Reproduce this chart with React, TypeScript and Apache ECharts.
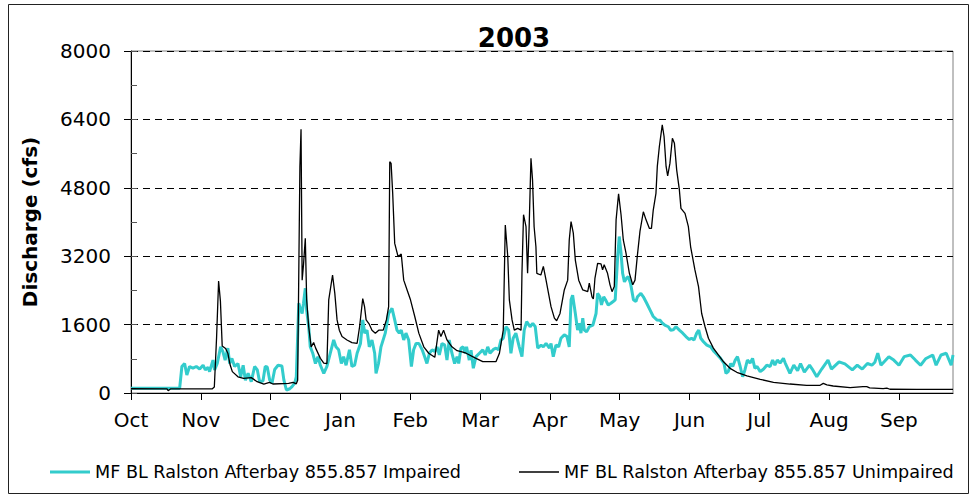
import React, { useEffect, useRef } from "react";
import * as echarts from "echarts";

const titleText = "2003";
const yAxisName = "Discharge (cfs)";
const monthLabels = ["Oct", "Nov", "Dec", "Jan", "Feb", "Mar", "Apr", "May", "Jun", "Jul", "Aug", "Sep"];
const monthTicks = [0, 31, 62, 93, 124, 155, 186, 217, 248, 279, 310, 341];
const seriesNames = ["MF BL Ralston Afterbay 855.857 Impaired", "MF BL Ralston Afterbay 855.857 Unimpaired"];
const seriesColors = ["#33CCCC", "#000000"];

// [day of water year, cfs]
const unimpaired: [number, number][] = [
  [0, 100], [16, 95], [16.5, 55], [17.5, 95], [36, 95], [37, 140], [38, 1300], [38.9, 2620], [39.7, 2150],
  [40.5, 1100], [42, 1040], [43, 930], [44, 660], [45, 500], [47.5, 380], [50, 340], [53.4, 360], [56, 265],
  [59, 210], [61.5, 250], [63, 210], [70, 225], [72, 250], [73.4, 215], [74, 300], [74.5, 2800], [75, 5300],
  [75.5, 6170], [76, 2640], [76.6, 3000], [77.4, 3620], [78, 2180], [78.9, 1550], [80, 1080], [81.1, 1180],
  [82, 1050], [84.1, 810], [85.6, 700], [87, 690], [87.8, 2180], [89.5, 2760], [90.5, 2330], [91.5, 1710],
  [92.5, 1470], [93.7, 1320], [95.9, 1240], [98.1, 1180], [100.4, 1160], [101.5, 1550], [102.9, 2210],
  [103.7, 2020], [104.4, 1710], [105.8, 1610], [107, 1470], [108.5, 1400], [110, 1470], [112, 1470],
  [113.4, 1710], [114.4, 2020], [114.9, 5410], [115.5, 5370], [116.2, 4670], [117.1, 3500], [118.6, 3190],
  [120, 3250], [121.1, 2640], [122.6, 2410], [124.1, 2180], [126, 1790], [127.8, 1400], [130, 1080],
  [132.2, 930], [134.9, 835], [136.6, 1470], [137.6, 1320], [138.8, 1470], [140.3, 1240], [142.5, 1080],
  [144.8, 990], [147, 960], [148.8, 930], [153.2, 810], [156.2, 735], [162.1, 735], [163.6, 930], [165.3, 1470],
  [166.2, 3930], [167.3, 3190], [168, 2180], [169.2, 1710], [170.2, 1470], [171.7, 1510], [173.2, 1470],
  [173.6, 2800], [174.3, 4170], [175.4, 3890], [176.1, 2800], [176.8, 3890], [177.6, 5490], [178.3, 4980],
  [179, 3890], [179.8, 3420], [180.2, 2800], [182, 2760], [183.1, 2960], [184.3, 2640], [185.4, 2330],
  [186.5, 2020], [188, 1750], [189, 1690], [190.5, 1860], [192.4, 2410], [193.9, 2640], [194.6, 3580],
  [195.4, 4010], [196.4, 3740], [197.3, 3110], [198.8, 2640], [200.6, 2410], [202.8, 2370], [203.5, 2570],
  [204.7, 2250], [205.3, 2200], [206, 2680], [207.2, 3030], [208.7, 3020], [209.4, 2880], [210.1, 3000],
  [211.6, 2800], [212.7, 2530], [213.6, 2370], [214.6, 2490], [215.4, 4050], [216.5, 4660], [217.6, 4170],
  [218.6, 3580], [219.8, 3270], [221.3, 2800], [222.8, 2530], [223.8, 2640], [224.8, 3190], [226, 3780],
  [227.5, 4240], [228.7, 4050], [230.2, 3850], [231.1, 3850], [231.9, 4280], [233.1, 4670], [233.7, 5300],
  [234.6, 5760], [235.9, 6270], [236.7, 6000], [237.6, 5300], [238.3, 5080], [239.3, 5370], [240.4, 5960],
  [241.3, 5840], [242.3, 5220], [243.5, 4750], [244.2, 4320], [246, 4200], [247.5, 3890], [248.5, 3420],
  [250.4, 2880], [252, 2490], [253.4, 1860], [254.9, 1550], [256.4, 1280], [258.6, 1050], [260.8, 890],
  [263.1, 730], [266, 577], [269, 484], [273.5, 400], [279.4, 320], [285.3, 250], [292.6, 210], [300, 180],
  [306, 180], [307.4, 226], [309, 190], [311.8, 164], [319.3, 124], [325, 148], [326.7, 150], [328, 120],
  [334, 100], [335.6, 115], [337, 88], [349, 86], [365, 86],
];

const impaired: [number, number][] = [
  [0, 110], [21.6, 110], [22.6, 620], [23.8, 690], [24.8, 420], [26, 620], [27.5, 580], [29, 620], [30.5, 560],
  [32, 650], [33, 540], [34.2, 600], [34.9, 500], [36.4, 770], [37.1, 540], [38.3, 690], [39.8, 1080],
  [40.8, 970], [41.8, 770], [43, 1050], [43.8, 690], [44.8, 810], [46, 620], [47.5, 690], [48.7, 380],
  [49.8, 650], [50.8, 300], [52, 460], [53.4, 265], [54.9, 620], [56.1, 540], [57.1, 265], [58.6, 280],
  [59.6, 620], [60.5, 610], [61.6, 300], [62.6, 230], [63.8, 550], [65.3, 650], [67, 630], [67.9, 300],
  [69, 70], [70.5, 100], [71.5, 150], [72.7, 230], [73.4, 380], [74.5, 2100], [75.3, 1950], [76, 1860],
  [76.6, 2100], [77.4, 2450], [78, 1940], [78.9, 1550], [79.6, 1080], [80.7, 930], [81.9, 690], [83, 850],
  [84.1, 650], [85.6, 460], [87, 620], [88.5, 930], [90, 1240], [91, 1080], [92.2, 1010], [93.4, 690],
  [94.4, 850], [95.5, 650], [97, 1010], [98.1, 620], [99.3, 650], [100.4, 930], [101.9, 1160], [102.9, 1710],
  [103.8, 1400], [104.8, 1470], [105.8, 1080], [107, 1240], [108.2, 930], [108.8, 460], [109.9, 690],
  [111, 1080], [112.9, 1400], [114.4, 1860], [115.9, 1980], [117.1, 1710], [118.1, 1470], [119.1, 1400],
  [120, 1470], [121.1, 1240], [122.1, 1400], [123.3, 1240], [124.5, 620], [125.5, 1010], [126.6, 1160],
  [127.8, 1160], [129.3, 1010], [130.4, 850], [131.4, 690], [132.5, 930], [133.7, 1010], [134.9, 970],
  [135.9, 1080], [136.9, 890], [138.1, 1160], [139.3, 1120], [140.3, 770], [141.3, 1240], [142.5, 930],
  [143.7, 690], [144.8, 850], [145.5, 690], [146.5, 1045], [147.5, 1080], [148.4, 930], [149, 1080],
  [150.2, 770], [151, 1000], [152, 580], [153.2, 850], [154.7, 930], [156.2, 1010], [157.3, 890],
  [158.4, 1080], [159.4, 930], [160.9, 1020], [162.1, 1050], [163.2, 1010], [164.3, 1240], [165.3, 1280],
  [166.5, 1550], [167.7, 1470], [168.7, 930], [169.7, 1280], [170.9, 1400], [172.4, 1080], [173.6, 850],
  [174.6, 1470], [175.7, 1670], [177.2, 1550], [178.4, 1630], [179.5, 1550], [180.6, 1050], [182.1, 1120],
  [183.1, 1080], [184.3, 1160], [185.8, 1050], [186.5, 1160], [187.5, 850], [188.7, 1120], [189.9, 1080],
  [190.9, 1280], [192.4, 1360], [193.6, 1320], [194.6, 1080], [195.4, 2180], [196.1, 2290], [197.3, 1860],
  [198.3, 1470], [199.1, 1630], [199.8, 1400], [200.6, 1750], [201.3, 1470], [202.3, 1430], [203.5, 1550],
  [205.1, 1590], [206.5, 1860], [207.2, 2330], [208.2, 2250], [208.9, 2060], [209.9, 2250], [210.7, 2180],
  [211.9, 2060], [213.1, 2100], [214.1, 2140], [215, 2180], [216.1, 3190], [216.8, 3660], [217.6, 3270],
  [218.3, 2800], [219.1, 2600], [220.1, 2690], [220.8, 2720], [221.8, 2570], [223.1, 2180], [224.2, 2140],
  [224.9, 2250], [226.4, 2330], [227.5, 2250], [229, 2100], [230.5, 1940], [231.9, 1790], [233.5, 1710],
  [235, 1700], [236, 1630], [237, 1590], [238.6, 1550], [239.6, 1470], [240.8, 1480], [242, 1550],
  [243.5, 1470], [245, 1400], [246.4, 1320], [247.9, 1250], [248.9, 1280], [250, 1240], [251.2, 1400],
  [252.1, 1470], [253, 1280], [254.2, 1200], [255.7, 1120], [257.4, 1080], [258.9, 970], [260.4, 890],
  [261.8, 810], [263.3, 690], [264.2, 460], [265.2, 500], [266.3, 690], [267.2, 620], [268.3, 770],
  [269.3, 850], [270.5, 620], [271.6, 380], [272.6, 540], [273.7, 770], [274.9, 700], [276, 810], [277, 580],
  [278, 620], [279.4, 500], [280.9, 560], [282.3, 650], [283.8, 620], [284.9, 770], [285.9, 650], [287, 770],
  [288.2, 700], [289.7, 810], [290.5, 700], [292.6, 460], [294.3, 650], [296, 520], [297.3, 690], [299, 490],
  [301.3, 650], [302.5, 560], [304.5, 380], [306.7, 560], [309.5, 770], [311, 560], [314.4, 730], [317, 680],
  [320.3, 540], [322.5, 650], [324.7, 560], [327, 690], [329, 650], [330.3, 720], [331.6, 930], [333, 650],
  [336.5, 850], [338.7, 770], [341, 650], [343.3, 850], [346.1, 890], [348.3, 770], [350.6, 650],
  [352.8, 800], [356, 890], [357.5, 650], [359.7, 890], [362, 930], [364.2, 650], [365, 890],
];

const FONT = "DejaVu Sans";

export default function App() {
  const ref = useRef<HTMLDivElement>(null);
  useEffect(() => {
    if (!ref.current) return;
    const chart = echarts.init(ref.current, undefined, { renderer: "svg" });
    chart.setOption({
      animation: false,
      backgroundColor: "#fff",
      textStyle: { fontFamily: FONT, color: "#000" },
      title: {
        text: titleText,
        left: 509,
        top: 20,
        textAlign: "center",
        textStyle: { fontFamily: FONT, fontSize: 26, fontWeight: "bold", color: "#000" },
      },
      graphic: [
        {
          type: "rect",
          shape: { x: 8.5, y: 4.5, width: 960, height: 489 },
          style: { fill: "none", stroke: "#222", lineWidth: 1 },
          silent: true,
          z: -1,
        },
      ],
      legend: {
        left: 50,
        top: 463,
        itemWidth: 40,
        itemHeight: 14,
        itemGap: 58,
        padding: 0,
        textStyle: { fontFamily: FONT, fontSize: 17.6, color: "#000" },
        data: [
          { name: seriesNames[0], icon: "path://M0,0L40,0L40,3L0,3Z", itemStyle: { color: seriesColors[0] } },
          { name: seriesNames[1], icon: "path://M0,0L40,0L40,1.4L0,1.4Z", itemStyle: { color: seriesColors[1] } },
        ],
      },
      grid: {
        left: 131,
        right: 21,
        top: 51,
        bottom: 104,
        show: true,
        borderColor: "#808080",
        borderWidth: 1,
        containLabel: false,
      },
      xAxis: {
        type: "value",
        min: 0,
        max: 365,
        axisLine: { show: true, lineStyle: { color: "#000", width: 1 } },
        axisTick: { show: true, length: 7, customValues: monthTicks, lineStyle: { color: "#000" } },
        axisLabel: {
          customValues: monthTicks,
          formatter: (v: number) => monthLabels[monthTicks.indexOf(v)] ?? "",
          fontFamily: FONT,
          fontSize: 20,
          color: "#000",
          margin: 17,
        },
        splitLine: { show: false },
      },
      yAxis: [
        {
          type: "value",
          min: 0,
          max: 8000,
          interval: 1600,
          name: yAxisName,
          nameLocation: "middle",
          nameRotate: 90,
          nameGap: 91,
          nameTextStyle: { fontFamily: FONT, fontSize: 20, fontWeight: "bold", color: "#000" },
          axisLine: { show: true, lineStyle: { color: "#000", width: 1 } },
          axisTick: { show: true, length: 7, lineStyle: { color: "#000" } },
          axisLabel: {
            fontFamily: FONT,
            fontSize: 20,
            color: "#000",
            margin: 20,
            formatter: (v: number) => String(v),
          },
          splitLine: { show: true, lineStyle: { color: "#000", width: 1, type: [7, 5] } },
        },
        {
          type: "value",
          min: 0,
          max: 8000,
          interval: 800,
          position: "left",
          axisLine: { show: false },
          axisTick: { show: true, inside: true, length: 6, lineStyle: { color: "#555" } },
          axisLabel: { show: false },
          splitLine: { show: false },
        },
      ],
      series: [
        {
          name: seriesNames[0],
          type: "line",
          data: impaired,
          symbol: "none",
          lineStyle: { color: seriesColors[0], width: 3 },
          itemStyle: { color: seriesColors[0] },
          z: 2,
        },
        {
          name: seriesNames[1],
          type: "line",
          data: unimpaired,
          symbol: "none",
          lineStyle: { color: seriesColors[1], width: 1.3 },
          itemStyle: { color: seriesColors[1] },
          z: 3,
        },
      ],
    });
    return () => chart.dispose();
  }, []);
  return (
    <div
      ref={ref}
      style={{ position: "fixed", left: 0, top: 0, width: 974, height: 497, background: "#fff" }}
    />
  );
}
